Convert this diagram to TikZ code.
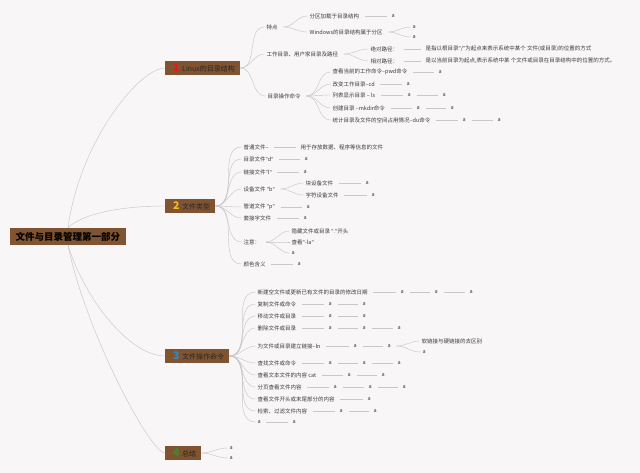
\documentclass[tikz,border=0pt]{standalone}
\usepackage{fontspec}
\setmainfont{Noto Sans CJK SC}
\newfontfamily\latf{Noto Sans}
\newcommand\qt[1]{{\latf "}#1{\latf "}}
\definecolor{bgc}{RGB}{248,246,246}
\definecolor{brownbox}{RGB}{128,84,48}
\definecolor{txt}{RGB}{60,60,60}
\definecolor{lnc}{RGB}{200,200,200}
\definecolor{bred}{RGB}{225,25,30}
\definecolor{byel}{RGB}{245,190,40}
\definecolor{bblu}{RGB}{40,140,210}
\definecolor{bgrn}{RGB}{40,150,50}
\newcommand\mkbadge[2]{\makebox[12pt][c]{\textcolor{#1}{\fontsize{10.5}{10.5}\selectfont\bfseries #2}}}
\newcommand\mkline[2]{\draw[st] ([xshift=5pt]#1.east) -- ([xshift=-4pt]#2.west);}
\newcommand\mkcurve[2]{\draw[cv] ([xshift=5pt]#1.east) to[out=0,in=180] ([xshift=-1.5pt]#2.west);}
\newcommand\mkbranch[2]{\draw[cv] (#1.east) to[out=0,in=180] ([xshift=-1.5pt]#2.west);}
\begin{document}
\begin{tikzpicture}[x=1pt,y=-1pt,
  lf/.style={anchor=west, inner sep=0.5pt, font=\fontsize{5.5}{6}\selectfont, text=txt},
  bx/.style={anchor=west, fill=brownbox, inner xsep=5pt, inner ysep=0pt, minimum height=14pt, font=\fontsize{7}{8}\selectfont, text=black!85},
  rootbox/.style={fill=brownbox, inner xsep=5pt, inner ysep=0pt, minimum width=116pt, minimum height=17pt, font=\fontsize{9.5}{10}\selectfont\bfseries, text=black},
  cv/.style={draw=lnc, line width=0.45pt},
  st/.style={draw=lnc, line width=0.45pt}]
\fill[bgc] (0,0) rectangle (640,473);
\useasboundingbox (0,0) rectangle (640,473);

% root and branches
\node[rootbox] (root) at (68,236.5) {文件与目录管理第一部分};
\node[bx] (b1) at (165,68) {\mkbadge{bred}{1}Linux的目录结构};
\node[bx] (b2) at (165,206) {\mkbadge{byel}{2}文件类型};
\node[bx] (b3) at (165,356) {\mkbadge{bblu}{3}文件操作命令};
\node[bx] (b4) at (165,453) {\mkbadge{bgrn}{4}总结};

\draw[cv] (root.north) .. controls (80,140) and (140,68) .. (b1.west);
\draw[cv] (root.north) .. controls (82,214) and (120,206) .. (b2.west);
\draw[cv] (root.south) .. controls (85,300) and (130,356) .. (b3.west);
\draw[cv] (root.south) .. controls (85,330) and (150,453) .. (b4.west);

% branch 1
\node[lf] (c11) at (266,27) {特点};
\node[lf] (c111) at (309,16) {分区加载于目录结构};
\node[lf] (c111a) at (391,16) {a};
\node[lf] (c112) at (309,32) {Windows的目录结构属于分区};
\node[lf] (c112a) at (412,27) {a};
\node[lf] (c112b) at (412,37) {a};
\node[lf] (c12) at (266,54) {工作目录、用户家目录及路径};
\node[lf] (c121) at (370,49) {绝对路径：};
\node[lf] (c121d) at (425,49) {是指以根目录\qt{/}为起点来表示系统中某个 文件(或目录)的位置的方式};
\node[lf] (c122) at (370,61) {相对路径：};
\node[lf] (c122d) at (425,61) {是以当前目录为起点,表示系统中某 个文件或目录在目录结构中的位置的方式。};
\node[lf] (c13) at (267,96) {目录操作命令};
\node[lf] (c131) at (332,72) {查看当前的工作命令--pwd命令};
\node[lf] (c131a) at (438,72) {a};
\node[lf] (c132) at (332,84) {改变工作目录--cd};
\node[lf] (c132a) at (406,84) {a};
\node[lf] (c133) at (332,95) {列表显示目录 -- ls};
\node[lf] (c133a) at (407,95) {a};
\node[lf] (c133b) at (442,95) {a};
\node[lf] (c134) at (332,108) {创建目录 --mkdir命令};
\node[lf] (c134a) at (416,108) {a};
\node[lf] (c134b) at (450,108) {a};
\node[lf] (c135) at (332,120) {统计目录及文件的空间占用情况--du命令};
\node[lf] (c135a) at (462,120) {a};
\node[lf] (c135b) at (497,120) {a};

\mkbranch{b1}{c11} \mkbranch{b1}{c12} \mkbranch{b1}{c13}
\mkcurve{c11}{c111} \mkcurve{c11}{c112}
\mkline{c111}{c111a}
\mkcurve{c112}{c112a} \mkcurve{c112}{c112b}
\mkcurve{c12}{c121} \mkcurve{c12}{c122}
\mkline{c121}{c121d} \mkline{c122}{c122d}
\mkcurve{c13}{c131} \mkcurve{c13}{c132} \mkcurve{c13}{c133} \mkcurve{c13}{c134} \mkcurve{c13}{c135}
\mkline{c131}{c131a} \mkline{c132}{c132a}
\mkline{c133}{c133a} \mkline{c133a}{c133b}
\mkline{c134}{c134a} \mkline{c134a}{c134b}
\mkline{c135}{c135a} \mkline{c135a}{c135b}

% branch 2
\node[lf] (c21) at (243,147) {普通文件--};
\node[lf] (c21d) at (300,147) {用于存放数据、程序等信息的文件};
\node[lf] (c22) at (243,159) {目录文件\qt{d}};
\node[lf] (c22a) at (304,159) {a};
\node[lf] (c23) at (243,172) {链接文件\qt{l}};
\node[lf] (c23a) at (303,172) {a};
\node[lf] (c24) at (243,189) {设备文件 \qt{b}};
\node[lf] (c241) at (305,183) {块设备文件};
\node[lf] (c241a) at (365,183) {a};
\node[lf] (c242) at (305,195) {字符设备文件};
\node[lf] (c242a) at (371,195) {a};
\node[lf] (c25) at (243,207) {管道文件 \qt{p}};
\node[lf] (c25a) at (306,207) {a};
\node[lf] (c26) at (243,218) {套接字文件};
\node[lf] (c26a) at (303,218) {a};
\node[lf] (c27) at (243,242) {注意：};
\node[lf] (c271) at (291,231) {隐藏文件或目录 \qt{.}开头};
\node[lf] (c272) at (291,242) {查看\qt{-la}};
\node[lf] (c273) at (291,253) {a};
\node[lf] (c28) at (243,264) {颜色含义};
\node[lf] (c28a) at (297,264) {a};

\foreach \c in {c21,c22,c23,c24,c25,c26,c27,c28} {\mkbranch{b2}{\c}}
\mkline{c21}{c21d} \mkline{c22}{c22a} \mkline{c23}{c23a}
\mkcurve{c24}{c241} \mkcurve{c24}{c242}
\mkline{c241}{c241a} \mkline{c242}{c242a}
\mkline{c25}{c25a} \mkline{c26}{c26a}
\mkcurve{c27}{c271} \mkcurve{c27}{c272} \mkcurve{c27}{c273}
\mkline{c28}{c28a}

% branch 3
\node[lf] (c31) at (257,292) {新建空文件或更新已有文件的目录的修改日期};
\node[lf] (c31a) at (400,292) {a};
\node[lf] (c31b) at (434,292) {a};
\node[lf] (c31c) at (469,292) {a};
\node[lf] (c32) at (257,304) {复制文件或命令};
\node[lf] (c32a) at (328,304) {a};
\node[lf] (c32b) at (362,304) {a};
\node[lf] (c33) at (257,316) {移动文件或目录};
\node[lf] (c33a) at (328,316) {a};
\node[lf] (c33b) at (362,316) {a};
\node[lf] (c34) at (257,328) {删除文件或目录};
\node[lf] (c34a) at (328,328) {a};
\node[lf] (c34b) at (362,328) {a};
\node[lf] (c34c) at (397,328) {a};
\node[lf] (c35) at (257,346) {为文件或目录建立链接--ln};
\node[lf] (c35a) at (353,346) {a};
\node[lf] (c35b) at (387,346) {a};
\node[lf] (c351) at (421,341) {软链接与硬链接的去区别};
\node[lf] (c352) at (422,352) {a};
\node[lf] (c36) at (257,363) {查找文件或命令};
\node[lf] (c36a) at (328,363) {a};
\node[lf] (c36b) at (362,363) {a};
\node[lf] (c36c) at (397,363) {a};
\node[lf] (c37) at (257,375) {查看文本文件的内容 cat};
\node[lf] (c37a) at (347,375) {a};
\node[lf] (c37b) at (381,375) {a};
\node[lf] (c38) at (257,387) {分页查看文件内容};
\node[lf] (c38a) at (333,387) {a};
\node[lf] (c38b) at (368,387) {a};
\node[lf] (c38c) at (402,387) {a};
\node[lf] (c39) at (257,399) {查看文件开头或末尾部分的内容};
\node[lf] (c39a) at (367,399) {a};
\node[lf] (c3a) at (257,411) {检索、过滤文件内容};
\node[lf] (c3aa) at (339,411) {a};
\node[lf] (c3ab) at (373,411) {a};
\node[lf] (c3b) at (257,422) {a};
\node[lf] (c3ba) at (292,422) {a};

\foreach \c in {c31,c32,c33,c34,c35,c36,c37,c38,c39,c3a,c3b} {\mkbranch{b3}{\c}}
\mkline{c31}{c31a} \mkline{c31a}{c31b} \mkline{c31b}{c31c}
\mkline{c32}{c32a} \mkline{c32a}{c32b}
\mkline{c33}{c33a} \mkline{c33a}{c33b}
\mkline{c34}{c34a} \mkline{c34a}{c34b} \mkline{c34b}{c34c}
\mkline{c35}{c35a} \mkline{c35a}{c35b}
\mkcurve{c35b}{c351} \mkcurve{c35b}{c352}
\mkline{c36}{c36a} \mkline{c36a}{c36b} \mkline{c36b}{c36c}
\mkline{c37}{c37a} \mkline{c37a}{c37b}
\mkline{c38}{c38a} \mkline{c38a}{c38b} \mkline{c38b}{c38c}
\mkline{c39}{c39a}
\mkline{c3a}{c3aa} \mkline{c3aa}{c3ab}
\mkline{c3b}{c3ba}

% branch 4
\node[lf] (c41) at (229,448) {a};
\node[lf] (c42) at (229,458) {a};
\mkbranch{b4}{c41} \mkbranch{b4}{c42}
\end{tikzpicture}
\end{document}
